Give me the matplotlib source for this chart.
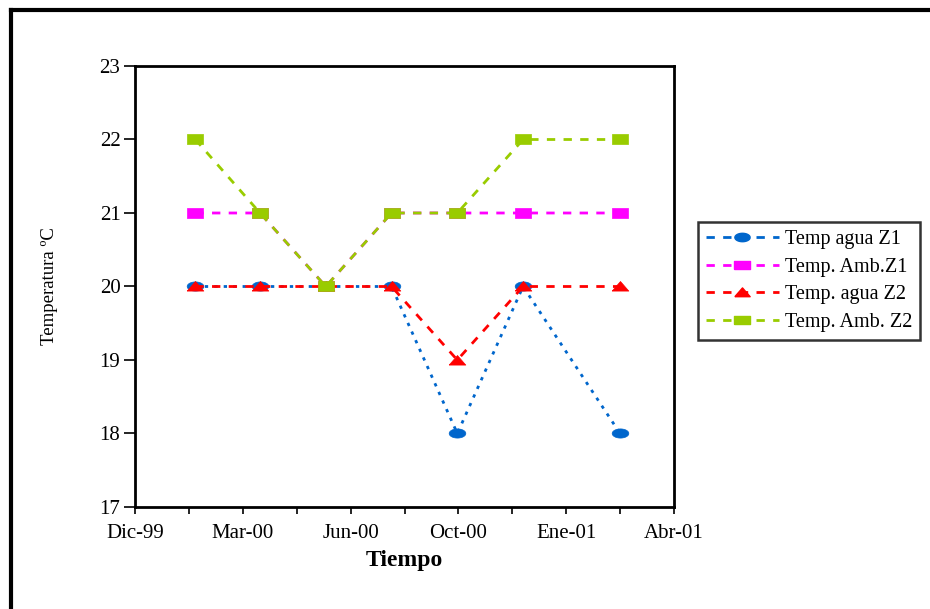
import datetime as dt
import matplotlib
matplotlib.use("Agg")
import matplotlib.pyplot as plt
import matplotlib.dates as mdates
from matplotlib.ticker import FixedLocator, FuncFormatter
from matplotlib.lines import Line2D
import numpy as np

# Sampling dates (end of month)
fechas = ["2000-01-31", "2000-03-31", "2000-05-31", "2000-07-31",
          "2000-09-30", "2000-11-30", "2001-02-28"]

temp_agua_z1 = [20, 20, 20, 20, 18, 20, 18]
temp_amb_z1 = [21, 21, 20, 21, 21, 21, 21]
temp_agua_z2 = [20, 20, 20, 20, 19, 20, 20]
temp_amb_z2 = [22, 21, 20, 21, 21, 22, 22]

series_labels = ["Temp agua Z1", "Temp. Amb.Z1", "Temp. agua Z2", "Temp. Amb. Z2"]
meses_es = ["Ene", "Feb", "Mar", "Abr", "May", "Jun",
            "Jul", "Ago", "Sep", "Oct", "Nov", "Dic"]

# Axis range: 500 days, major step 100 days
x_inicio = dt.date(1999, 12, 6)
x_fin = dt.date(2001, 4, 19)

plt.rcParams["font.family"] = ["Liberation Serif", "DejaVu Serif"]

fig = plt.figure(figsize=(9.3, 6.09), dpi=100)
ax = fig.add_axes([135 / 930, 1 - 507 / 609, (674 - 135) / 930, (507 - 66) / 609])

x = [mdates.date2num(dt.date.fromisoformat(f)) for f in fechas]

# Horizontally stretched markers
circ_t = np.linspace(0, 2 * np.pi, 40)
ellipse = list(zip(np.cos(circ_t), 0.55 * np.sin(circ_t)))
rect = [(-1, -0.55), (1, -0.55), (1, 0.55), (-1, 0.55), (-1, -0.55)]
tri = [(-1, -0.55), (1, -0.55), (0, 0.6), (-1, -0.55)]

estilos = [
    dict(color="#0066CC", ls=(0, (1.2, 2.2)), marker=ellipse, ms=12),
    dict(color="#FF00FF", ls=(0, (3, 3)), marker=rect, ms=12),
    dict(color="#FF0000", ls=(0, (3, 3)), marker=tri, ms=12),
    dict(color="#99CC00", ls=(0, (3, 3)), marker=rect, ms=12),
]
datos = [temp_agua_z1, temp_amb_z1, temp_agua_z2, temp_amb_z2]

handles = []
for y, st, lab in zip(datos, estilos, series_labels):
    ax.plot(x, y, color=st["color"], linestyle=st["ls"], lw=2,
            marker=st["marker"], markersize=st["ms"],
            markerfacecolor=st["color"], markeredgecolor=st["color"],
            markeredgewidth=0.5, clip_on=False)
    handles.append(Line2D([], [], color=st["color"], linestyle=(0, (3, 3)), lw=2,
                          marker=st["marker"], markersize=st["ms"] - 1,
                          markerfacecolor=st["color"], markeredgecolor=st["color"],
                          label=lab))

x0 = mdates.date2num(x_inicio)
x1 = mdates.date2num(x_fin)
ax.set_xlim(x0, x1)
ax.set_ylim(17, 23)

ax.xaxis.set_major_locator(FixedLocator(np.arange(x0, x1 + 1, 100)))
ax.xaxis.set_minor_locator(FixedLocator(np.arange(x0 + 50, x1, 100)))


def fmt_fecha(v, pos):
    d = mdates.num2date(v)
    return f"{meses_es[d.month - 1]}-{d.year % 100:02d}"


ax.xaxis.set_major_formatter(FuncFormatter(fmt_fecha))
ax.set_yticks(range(17, 24))

ax.tick_params(axis="x", which="both", direction="out", length=5, width=1.2,
               labelsize=15, pad=7)
ax.tick_params(axis="y", which="major", direction="out", length=8, width=1.2,
               labelsize=15, pad=2.5)
for s in ax.spines.values():
    s.set_linewidth(2)

ax.set_xlabel("Tiempo", fontsize=17, fontweight="bold", labelpad=5)
ax.set_ylabel("Temperatura ºC", fontsize=13.5, labelpad=30)

leg = fig.legend(handles=handles, loc="upper left",
                 bbox_to_anchor=(698 / 930, 1 - 222 / 609),
                 frameon=True, fancybox=False, fontsize=14.5,
                 handlelength=3.6, handletextpad=0.3, labelspacing=0.42,
                 borderpad=0.4, borderaxespad=0)
leg.get_frame().set_edgecolor("black")
leg.get_frame().set_linewidth(1.8)

# Outer chart border (left and top)
fig.add_artist(Line2D([11 / 930, 11 / 930], [0, 1 - 10 / 609],
                      transform=fig.transFigure, color="black", lw=3))
fig.add_artist(Line2D([11 / 930, 1], [1 - 10 / 609, 1 - 10 / 609],
                      transform=fig.transFigure, color="black", lw=3))

fig.savefig("out.png", dpi=100)
